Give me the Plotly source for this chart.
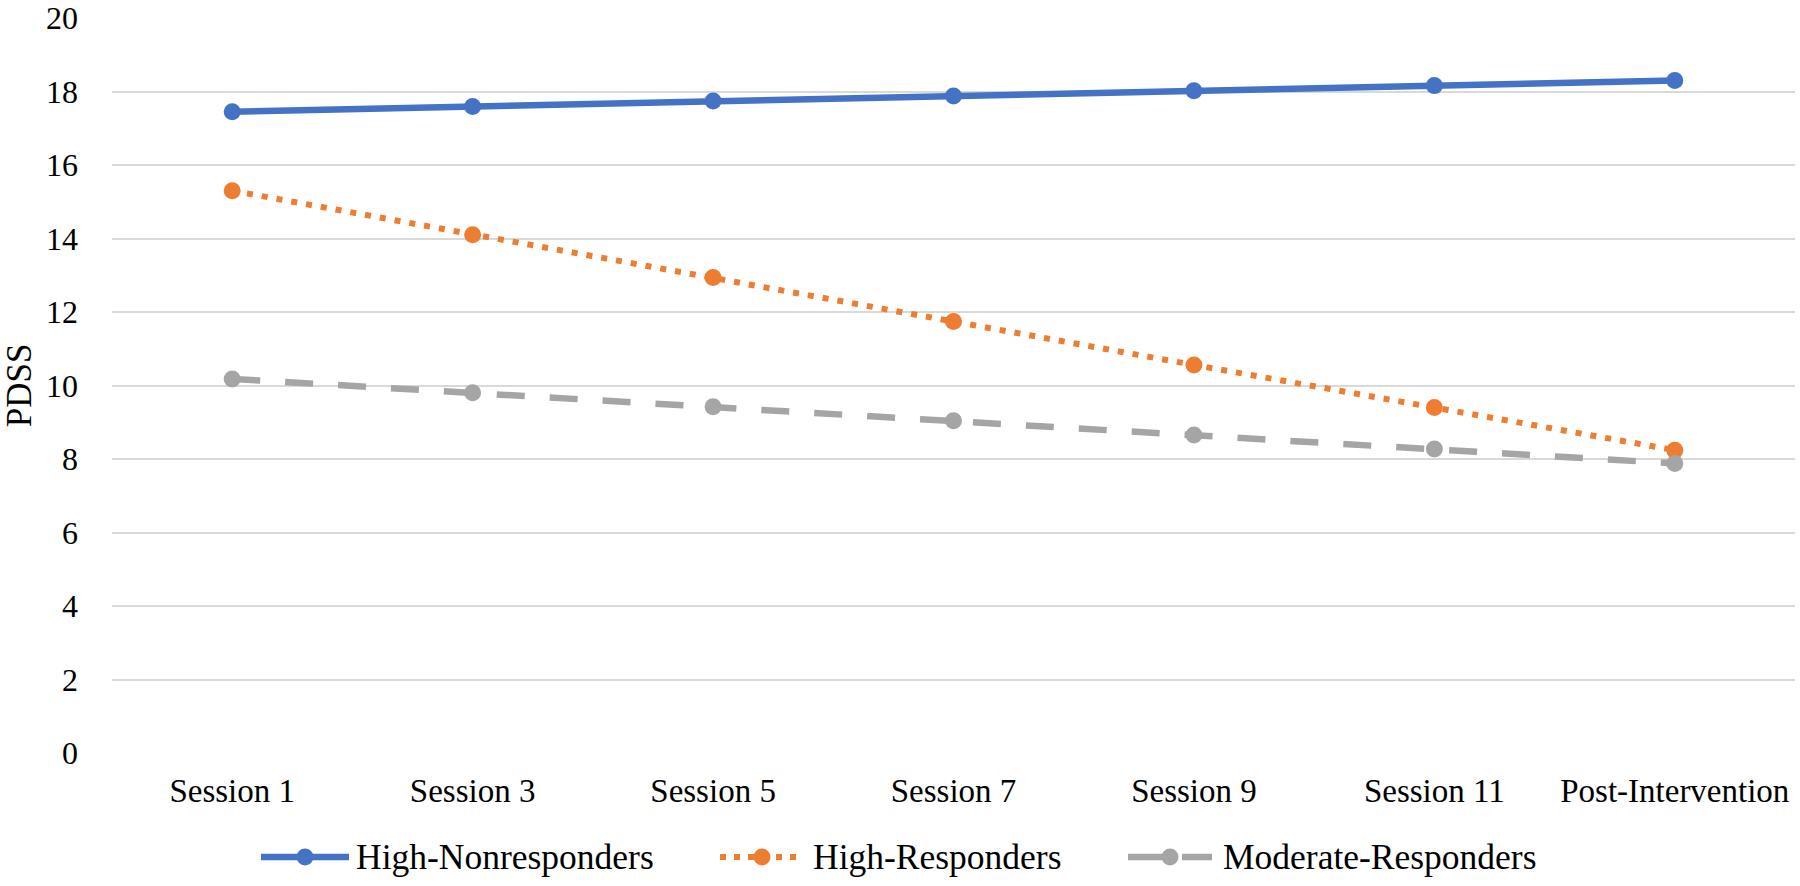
import plotly.graph_objects as go

categories = ["Session 1", "Session 3", "Session 5", "Session 7", "Session 9", "Session 11", "Post-Intervention"]
high_nonresponders = [17.45, 17.59, 17.74, 17.88, 18.02, 18.16, 18.30]
high_responders = [15.30, 14.10, 12.94, 11.74, 10.56, 9.40, 8.24]
moderate_responders = [10.18, 9.80, 9.42, 9.04, 8.65, 8.27, 7.88]
series_names = ["High-Nonresponders", "High-Responders", "Moderate-Responders"]
y_ticks = [0, 2, 4, 6, 8, 10, 12, 14, 16, 18, 20]

FONT = "Liberation Serif, Times New Roman, serif"
W, H = 1800, 886
ML, MR, MT, MB = 112, 5, 18, 133
PW, PH = W - ML - MR, H - MT - MB

styles = [
    dict(color="#4472C4", width=6.5, dash="solid", msize=17),
    dict(color="#ED7D31", width=6, dash="6px,9px", msize=17),
    dict(color="#A5A5A5", width=6.5, dash="28px,25px", msize=17),
]
series = [high_nonresponders, high_responders, moderate_responders]

fig = go.Figure()
for name, vals, st in zip(series_names, series, styles):
    fig.add_trace(go.Scatter(
        x=categories, y=vals, name=name, mode="lines+markers",
        line=dict(color=st["color"], width=st["width"], dash=st["dash"]),
        marker=dict(color=st["color"], size=st["msize"], symbol="circle"),
        showlegend=False,
    ))

# custom legend (Excel-style long symbols)
def px_x(px):
    return (px - ML) / PW

def px_y(py):
    return (H - MB - py) / PH

legend_y = 857
legend_items = [  # (symbol left, symbol right, text left) in px
    (261, 349, 354),
    (720, 804, 811),
    (1128, 1212, 1221),
]
shapes = []
annotations = []
legend_dashes = ["solid", "6px,8px", "34px,20px"]
for (x0, x1, tx), name, st, ld in zip(legend_items, series_names, styles, legend_dashes):
    shapes.append(dict(
        type="line", xref="paper", yref="paper",
        x0=px_x(x0), x1=px_x(x1), y0=px_y(legend_y), y1=px_y(legend_y),
        line=dict(color=st["color"], width=st["width"], dash=ld),
    ))
    xc = px_x((x0 + x1) / 2)
    yc = px_y(legend_y)
    r = st["msize"] / 2
    shapes.append(dict(
        type="circle", xref="paper", yref="paper",
        xsizemode="pixel", ysizemode="pixel", xanchor=xc, yanchor=yc,
        x0=-r, x1=r, y0=-r, y1=r,
        fillcolor=st["color"], line=dict(width=0),
    ))
    annotations.append(dict(
        text=name, xref="paper", yref="paper", x=px_x(tx), y=px_y(legend_y),
        xanchor="left", yanchor="middle", showarrow=False,
        font=dict(family=FONT, size=35.5, color="#000000"),
    ))

fig.update_layout(
    width=W, height=H,
    margin=dict(l=ML, r=MR, t=MT, b=MB, autoexpand=False),
    paper_bgcolor="white", plot_bgcolor="white",
    font=dict(family=FONT, size=32, color="#000000"),
    showlegend=False,
    shapes=shapes,
    annotations=annotations,
)
fig.update_xaxes(
    type="category", range=[-0.5, 6.5], automargin=False,
    showgrid=False, zeroline=False, showline=False,
    ticks="", ticklabelstandoff=15,
    tickfont=dict(family=FONT, size=33, color="#000000"),
)
fig.update_yaxes(
    range=[0, 20], tickvals=y_ticks, automargin=False,
    showgrid=True, gridcolor="#D9D9D9", gridwidth=2,
    zeroline=False, showline=False, ticks="",
    ticklabelstandoff=33,
    tickfont=dict(family=FONT, size=32, color="#000000"),
    title=dict(text="PDSS", standoff=15, font=dict(family=FONT, size=35, color="#000000")),
)

fig.write_html(
    "out.html",
    config={"displayModeBar": False},
    post_script="document.body.style.margin='0';",
)
